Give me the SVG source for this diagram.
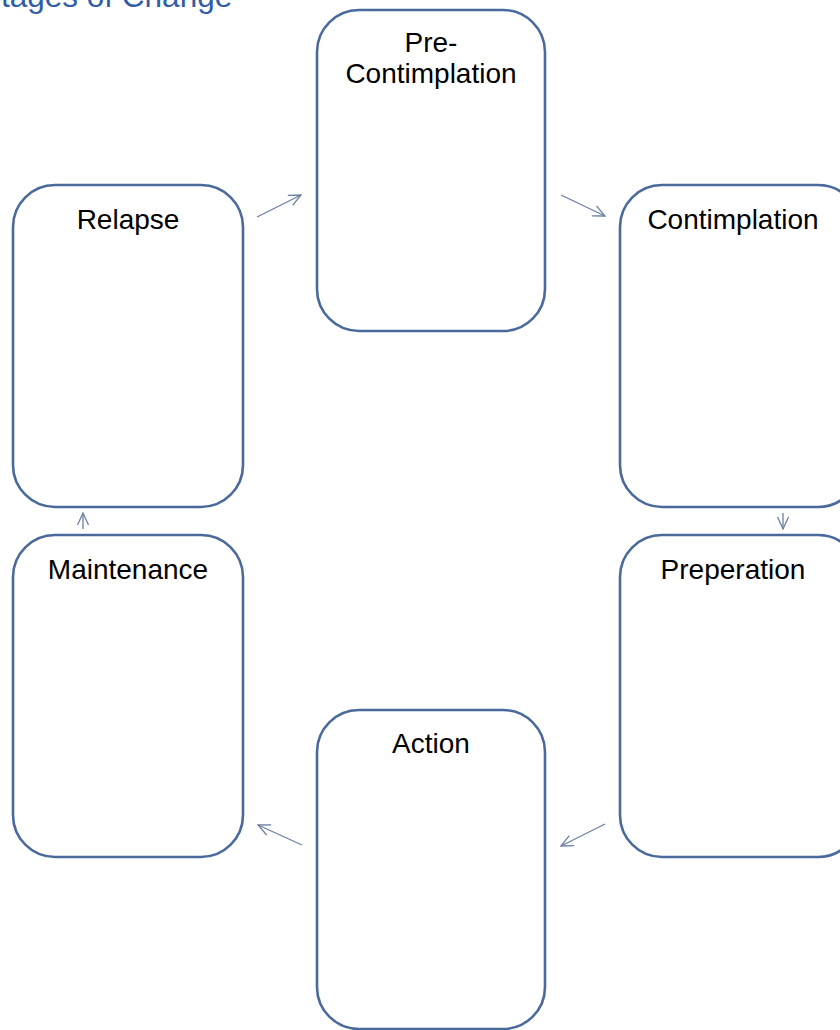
<svg xmlns="http://www.w3.org/2000/svg" width="840" height="1030" viewBox="0 0 840 1030">
<defs>
<style>
.box{fill:#fff;stroke:#4A6A9C;stroke-width:2.6}
.lbl{font-family:"Liberation Sans",Arial,sans-serif;font-size:28px;fill:#000;text-anchor:middle}
.con{stroke:#6B80A3;stroke-width:1.3;fill:none}
</style>
<marker id="ah" viewBox="0 0 14 14" refX="13" refY="7" markerWidth="14" markerHeight="14" markerUnits="userSpaceOnUse" orient="auto">
<path d="M1,1.5 L13,7 L1,12.5" fill="none" stroke="#6B80A3" stroke-width="1.3"/>
</marker>
</defs>
<rect width="840" height="1030" fill="#fff"/>
<text x="-20" y="7" font-family="'Liberation Sans',Arial,sans-serif" font-size="31.5" fill="#2F5DA8">Stages of Change</text>
<g id="pre">
<rect class="box" x="317" y="10" width="228" height="321" rx="42"/>
<text class="lbl" x="431" y="52">Pre-</text>
<text class="lbl" x="431" y="83">Contimplation</text>
</g>
<g id="contimplation">
<rect class="box" x="620" y="185" width="240" height="322" rx="42"/>
<text class="lbl" x="733" y="229">Contimplation</text>
</g>
<g id="relapse">
<rect class="box" x="13" y="185" width="230" height="322" rx="42"/>
<text class="lbl" x="128" y="229">Relapse</text>
</g>
<g id="maintenance">
<rect class="box" x="13" y="535" width="230" height="322" rx="42"/>
<text class="lbl" x="128" y="579">Maintenance</text>
</g>
<g id="preperation">
<rect class="box" x="620" y="535" width="240" height="322" rx="42"/>
<text class="lbl" x="733" y="579">Preperation</text>
</g>
<g id="action">
<rect class="box" x="317" y="710" width="228" height="319" rx="42"/>
<text class="lbl" x="431" y="753">Action</text>
</g>
<g id="connectors">
<line class="con" x1="257" y1="217" x2="301" y2="195" marker-end="url(#ah)"/>
<line class="con" x1="561" y1="195" x2="605" y2="216" marker-end="url(#ah)"/>
<line class="con" x1="783" y1="513" x2="783" y2="529" marker-end="url(#ah)"/>
<line class="con" x1="605" y1="824" x2="561" y2="846" marker-end="url(#ah)"/>
<line class="con" x1="302" y1="845" x2="258" y2="825" marker-end="url(#ah)"/>
<line class="con" x1="83" y1="529" x2="83" y2="513" marker-end="url(#ah)"/>
</g>
</svg>
